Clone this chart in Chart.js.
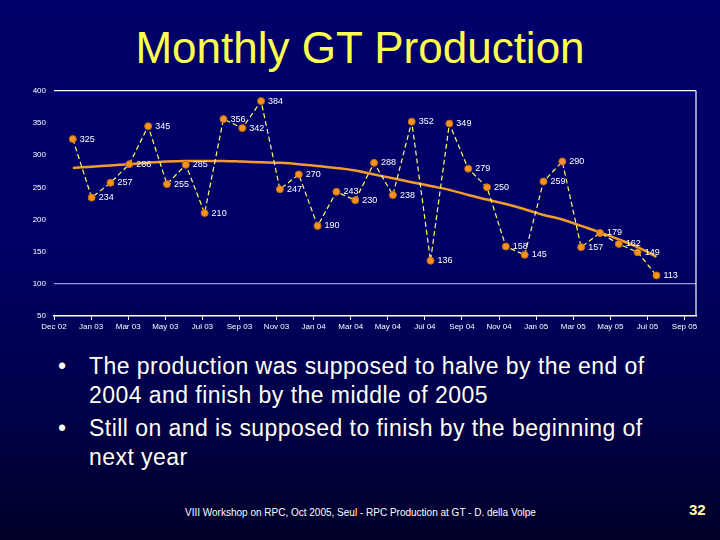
<!DOCTYPE html>
<html>
<head>
<meta charset="utf-8">
<script src="https://cdn.jsdelivr.net/npm/chart.js@4.4.1/dist/chart.umd.min.js"></script>
<style>
  html, body { margin: 0; padding: 0; }
  body {
    width: 720px; height: 540px; overflow: hidden; position: relative;
    background: linear-gradient(to bottom, #00006a 0%, #000066 45%, #00004a 75%, #000028 100%);
    font-family: "Liberation Sans", Arial, sans-serif;
  }
  #titulo {
    position: absolute; left: 0; top: 22px; width: 720px; text-align: center;
    color: #ffff4d; font-size: 44px; line-height: 52px;
  }
  #grafico { position: absolute; left: 0; top: 78px; }
  #puntos {
    position: absolute; left: 58px; top: 352px; margin: 0; padding: 0;
    list-style: none; color: #fffff2; font-size: 23px; line-height: 29px; letter-spacing: 0.45px;
    white-space: nowrap;
  }
  #puntos li { padding-left: 31px; text-indent: -31px; margin-bottom: 4px; }
  #puntos li span.b { display: inline-block; width: 31px; text-indent: 0; letter-spacing: 0; }
  #pie {
    position: absolute; left: 185px; top: 507px; color: #ffffff; font-size: 10px;
  }
  #pagina {
    position: absolute; left: 689px; top: 501px; color: #ffff99; font-size: 15px; font-weight: bold;
  }
</style>
</head>
<body>
<div id="titulo">Monthly GT Production</div>
<canvas id="grafico" width="720" height="262"></canvas>
<ul id="puntos">
  <li><span class="b">•</span>The production was supposed to halve by the end of<br>2004 and finish by the middle of 2005</li>
  <li><span class="b">•</span>Still on and is supposed to finish by the beginning of<br>next year</li>
</ul>
<div id="pie">VIII Workshop on RPC, Oct 2005, Seul - RPC Production at GT - D. della Volpe</div>
<div id="pagina">32</div>
<script>
// Datos
const meses = ["Dec 02", "Jan 03", "Mar 03", "May 03", "Jul 03", "Sep 03", "Nov 03", "Jan 04", "Mar 04",
               "May 04", "Jul 04", "Sep 04", "Nov 04", "Jan 05", "Mar 05", "May 05", "Jul 05", "Sep 05"];
const produccion = [325, 234, 257, 286, 345, 255, 285, 210, 356, 342, 384, 247, 270, 190, 243, 230,
                    288, 238, 352, 136, 349, 279, 250, 158, 145, 259, 290, 157, 179, 162, 149, 113];
const tendencia = [280, 282, 284, 286, 288, 290, 291, 291, 291, 290, 289, 288, 286, 283, 280, 276,
                   270, 264, 258, 252, 246, 238, 231, 224, 216, 207, 200, 190, 180, 169, 157, 142];
const ticksY = [50, 100, 150, 200, 250, 300, 350, 400];

// ticks de meses: cada etiqueta ocupa casi dos puntos
const inicioTick = -1;
const pasoTick = 1.97;

const fuente = '"Liberation Sans", Arial, sans-serif';

// Etiquetas de valores junto a cada punto
const etiquetasPlugin = {
    id: 'etiquetas',
    afterDatasetsDraw(chart) {
        const ctx = chart.ctx;
        const meta = chart.getDatasetMeta(0);
        ctx.save();
        ctx.fillStyle = '#ffffff';
        ctx.font = '9px ' + fuente;
        ctx.textBaseline = 'middle';
        ctx.textAlign = 'left';
        meta.data.forEach((p, i) => {
            ctx.fillText(produccion[i], p.x + 7, p.y);
        });
        ctx.restore();
    }
};

// Borde derecho del area
const marcoPlugin = {
    id: 'marco',
    afterDraw(chart) {
        const a = chart.chartArea;
        const ctx = chart.ctx;
        ctx.save();
        ctx.strokeStyle = '#ffffff';
        ctx.lineWidth = 1.2;
        ctx.beginPath();
        ctx.moveTo(a.right, a.top);
        ctx.lineTo(a.right, a.bottom);
        ctx.stroke();
        ctx.restore();
    }
};

const grafico = document.getElementById('grafico');
const caracteristicas = {
    type: 'line',
    data: {
        datasets: [{
            data: produccion.map((v, i) => ({ x: i, y: v })),
            borderColor: '#ffff66',
            borderWidth: 1.2,
            borderDash: [5, 3],
            pointRadius: 3.5,
            pointBackgroundColor: '#f7931e',
            pointBorderColor: '#c46a10',
            pointBorderWidth: 1,
            tension: 0
        }, {
            data: tendencia.map((v, i) => ({ x: i, y: v })),
            borderColor: '#f39c2a',
            borderWidth: 2.5,
            pointRadius: 0,
            tension: 0.4
        }]
    },
    options: {
        responsive: false,
        animation: false,
        devicePixelRatio: 1,
        layout: { padding: { top: 9, right: 24, left: 0, bottom: 0 } },
        plugins: { legend: { display: false }, tooltip: { enabled: false } },
        scales: {
            x: {
                type: 'linear',
                min: -1,
                max: 33.1,
                afterBuildTicks: (axis) => {
                    axis.ticks = meses.map((m, k) => ({ value: inicioTick + k * pasoTick }));
                },
                afterFit: (axis) => { axis.height = 24; },
                ticks: {
                    autoSkip: false,
                    maxRotation: 0,
                    color: '#ffffff',
                    font: { family: fuente, size: 8 },
                    padding: 2,
                    callback: (v, i) => meses[i]
                },
                grid: { drawOnChartArea: false, color: '#ffffff', tickLength: 4 },
                border: { display: true, color: '#ffffff', width: 1.5 }
            },
            y: {
                min: 50,
                max: 400,
                afterBuildTicks: (axis) => {
                    axis.ticks = ticksY.map(v => ({ value: v }));
                },
                afterFit: (axis) => { axis.width = 54; },
                ticks: {
                    color: '#ffffff',
                    font: { family: fuente, size: 8 },
                    padding: 8
                },
                grid: {
                    drawTicks: false,
                    lineWidth: 1.2,
                    color: (c) => c.tick.value === 100 ? '#9a9ad8' : (c.tick.value === 400 ? '#ffffff' : 'rgba(0,0,0,0)')
                },
                border: { display: false }
            }
        }
    },
    plugins: [etiquetasPlugin, marcoPlugin]
};
const myChart = new Chart(grafico, caracteristicas);
</script>
</body>
</html>
